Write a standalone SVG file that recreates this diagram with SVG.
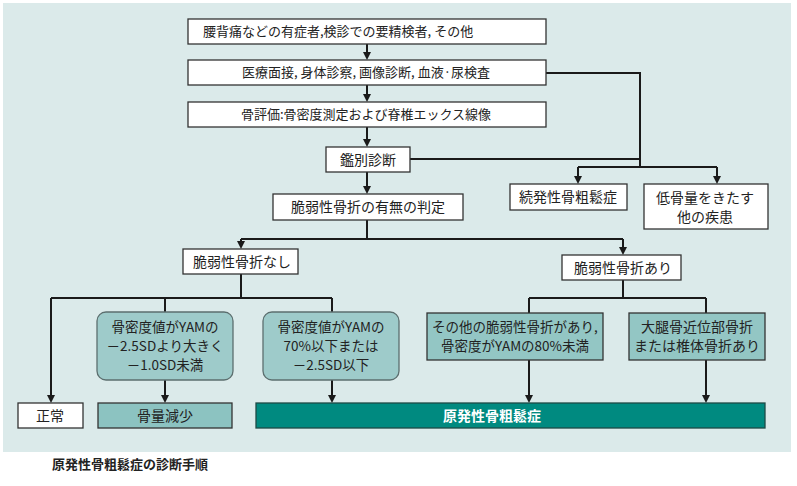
<svg xmlns="http://www.w3.org/2000/svg" width="797" height="486" viewBox="0 0 797 486">
<style>
text{font-family:"Noto Sans CJK JP","Noto Sans",sans-serif;fill:#222;font-size:14px;text-anchor:middle}
.s13{font-size:13px}
.ml{font-size:13.5px}
.wb{fill:#fff;stroke:#333;stroke-width:1.3}
.rb{fill:#9ecbca;stroke:#5c6f6f;stroke-width:1.3}
.tb{fill:#93c6c4;stroke:#333;stroke-width:1.3}
.cn{fill:none;stroke:#1a1a1a;stroke-width:2}
.ar{marker-end:url(#ah)}
</style>
<defs>
<marker id="ah" viewBox="0 0 10 10" refX="5" refY="5" markerWidth="8" markerHeight="8" markerUnits="userSpaceOnUse" orient="auto">
<path d="M0,0 L10,5 L0,10 z" fill="#1a1a1a"/>
</marker>
</defs>
<rect x="3" y="3" width="788" height="449" fill="#dbeaea"/>
<g id="connectors">
<path class="cn ar" d="M367,44 V56"/>
<path class="cn ar" d="M367,85 V98"/>
<path class="cn ar" d="M367,127 V143"/>
<path class="cn ar" d="M367,172 V190"/>
<path class="cn" d="M546,73 H640 V167"/>
<path class="cn" d="M410,159 H640"/>
<path class="cn" d="M578,167 H717"/>
<path class="cn ar" d="M578,167 V180"/>
<path class="cn ar" d="M717,167 V180"/>
<path class="cn" d="M367,220 V239"/>
<path class="cn" d="M241,239 H623"/>
<path class="cn ar" d="M241,239 V245"/>
<path class="cn ar" d="M623,239 V251"/>
<path class="cn" d="M241,274 V298"/>
<path class="cn" d="M51,298 H332"/>
<path class="cn ar" d="M51,298 V399"/>
<path class="cn" d="M165,298 V312"/>
<path class="cn" d="M332,298 V312"/>
<path class="cn ar" d="M165,380 V399"/>
<path class="cn ar" d="M332,380 V399"/>
<path class="cn" d="M623,280 V298"/>
<path class="cn" d="M529,298 H706"/>
<path class="cn" d="M529,298 V313"/>
<path class="cn" d="M706,298 V313"/>
<path class="cn ar" d="M529,360 V399"/>
<path class="cn ar" d="M706,360 V399"/>
</g>
<g id="n1"><rect class="wb" x="188" y="19" width="358" height="25"/><text class="s13" x="203" y="36" style="text-anchor:start">腰背痛などの有症者,検診での要精検者, その他</text></g>
<g id="n2"><rect class="wb" x="188" y="60" width="358" height="25"/><text class="s13" x="366" y="77">医療面接, 身体診察, 画像診断, 血液·尿検査</text></g>
<g id="n3"><rect class="wb" x="188" y="102" width="358" height="25"/><text class="s13" x="366" y="119">骨評価:骨密度測定および脊椎エックス線像</text></g>
<g id="n4"><rect class="wb" x="326" y="147" width="84" height="25"/><text x="368" y="165">鑑別診断</text></g>
<g id="n5"><rect class="wb" x="273" y="194" width="190" height="26"/><text x="368" y="212">脆弱性骨折の有無の判定</text></g>
<g id="n6"><rect class="wb" x="510" y="184" width="117" height="26"/><text x="568" y="202">続発性骨粗鬆症</text></g>
<g id="n7"><rect class="wb" x="644" y="184" width="124" height="45"/><text x="705" y="203">低骨量をきたす</text><text x="705" y="222">他の疾患</text></g>
<g id="n8"><rect class="wb" x="183" y="249" width="115" height="25"/><text x="242" y="267">脆弱性骨折なし</text></g>
<g id="n9"><rect class="wb" x="562" y="255" width="119" height="25"/><text x="623" y="273">脆弱性骨折あり</text></g>
<g id="n10"><rect class="rb" x="97" y="312" width="136" height="68" rx="9"/><text class="ml" x="165" y="332">骨密度値がYAMの</text><text class="ml" x="165" y="351">－2.5SDより大きく</text><text class="ml" x="165" y="370">－1.0SD未満</text></g>
<g id="n11"><rect class="rb" x="263" y="312" width="136" height="68" rx="9"/><text class="ml" x="331" y="332">骨密度値がYAMの</text><text class="ml" x="331" y="351">70%以下または</text><text class="ml" x="331" y="370">－2.5SD以下</text></g>
<g id="n12"><rect class="tb" x="427" y="313" width="176" height="47"/><text class="ml" x="515" y="332">その他の脆弱性骨折があり,</text><text class="ml" x="515" y="351">骨密度がYAMの80%未満</text></g>
<g id="n13"><rect class="tb" x="629" y="313" width="136" height="47"/><text x="697" y="332">大腿骨近位部骨折</text><text x="697" y="351">または椎体骨折あり</text></g>
<g id="n14"><rect class="wb" x="18" y="403" width="65" height="25"/><text x="50" y="421">正常</text></g>
<g id="n15"><rect x="98" y="403" width="134" height="25" fill="#8cc3c1" stroke="#333" stroke-width="1.3"/><text x="165" y="421">骨量減少</text></g>
<g id="n16"><rect x="256" y="403" width="509" height="25" fill="#008a80" stroke="#1d4a46" stroke-width="1.3"/><text x="492" y="421" style="fill:#fff;font-weight:bold">原発性骨粗鬆症</text></g>
<text x="52" y="469" style="text-anchor:start;font-size:13px;font-weight:bold">原発性骨粗鬆症の診断手順</text>
</svg>
